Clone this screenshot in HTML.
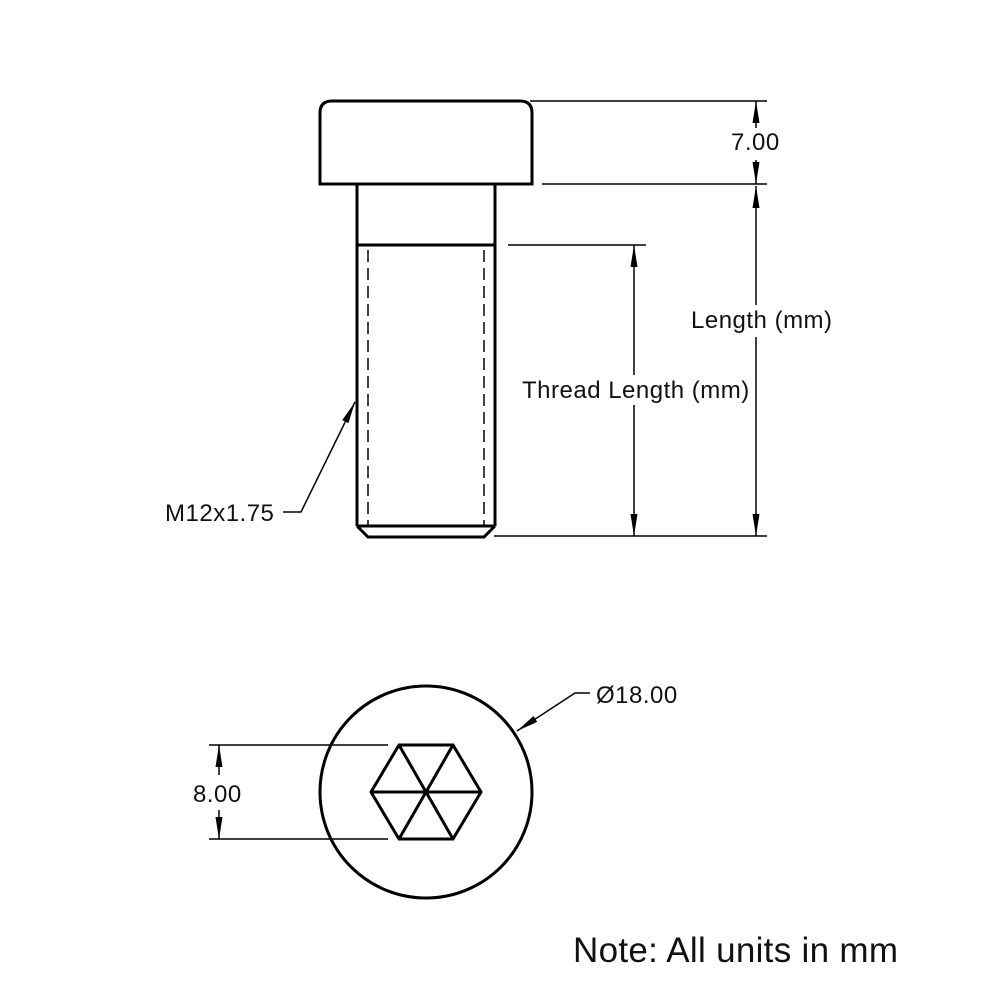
<!DOCTYPE html>
<html><head><meta charset="utf-8"><style>
html,body{margin:0;padding:0;background:#fff}
svg{display:block}
text{font-family:"Liberation Sans",sans-serif;fill:#111;letter-spacing:0.5px}
</style></head><body>
<svg width="1000" height="1000" viewBox="0 0 1000 1000" xmlns="http://www.w3.org/2000/svg">
<defs>
<marker id="b" viewBox="0 0 10 10" refX="10" refY="5" markerWidth="22" markerHeight="7" markerUnits="userSpaceOnUse" orient="auto" preserveAspectRatio="none"><path d="M0,0L10,5L0,10z" fill="#000"/></marker>
</defs>
<g fill="none" stroke="#000" stroke-width="3">
<path d="M320,184V113Q320,101 332,101H520Q532,101 532,113V184Z"/>
<path d="M357,184V526M495,184V526M357,245H495M357,526H495M357,526L368,537H484L495,526"/>
<circle cx="426" cy="792" r="106"/>
<path d="M371,792L399,745H453L481,792L453,839H399Z"/>
<path d="M371,792H481M399,745L453,839M453,745L399,839"/>
</g>
<g fill="none" stroke="#000" stroke-width="1.5">
<path d="M368,250V526M484,250V526" stroke-dasharray="12,6"/>
<path d="M530,101H767M542,184H767M494,536H767M508,245H646"/>
<path d="M756,128V101" marker-end="url(#b)"/>
<path d="M756,160V184" marker-end="url(#b)"/>
<path d="M756,305V186" marker-end="url(#b)"/>
<path d="M756,337V536" marker-end="url(#b)"/>
<path d="M634,375V245" marker-end="url(#b)"/>
<path d="M634,405V536" marker-end="url(#b)"/>
<path d="M209,745H388M209,839H388"/>
<path d="M219,775V745" marker-end="url(#b)"/>
<path d="M219,810V839" marker-end="url(#b)"/>
<path d="M283,512H301L355,402" marker-end="url(#b)"/>
<path d="M590,693H575L517,731" marker-end="url(#b)"/>
</g>
<text x="731" y="150" font-size="24">7.00</text>
<text x="691" y="328" font-size="24">Length (mm)</text>
<text x="522" y="398" font-size="24">Thread Length (mm)</text>
<text x="165" y="521" font-size="24">M12x1.75</text>
<text x="596" y="703" font-size="24">Ø18.00</text>
<text x="193" y="802" font-size="24">8.00</text>
<text x="573" y="962" font-size="35" style="letter-spacing:0.3px">Note: All units in mm</text>
</svg>
</body></html>
